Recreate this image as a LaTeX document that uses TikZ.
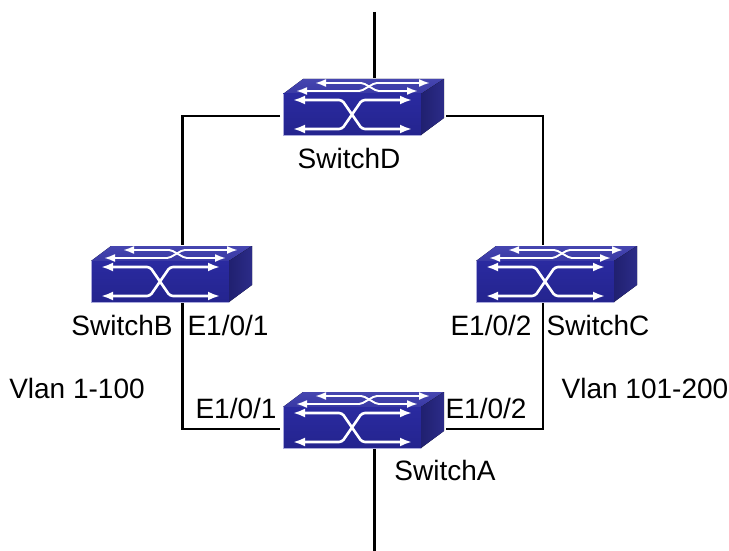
\documentclass[tikz,border=0pt]{standalone}
\usepackage{fontspec}
\setmainfont{Liberation Sans}
\usetikzlibrary{arrows.meta}
\definecolor{swfront}{RGB}{42,42,160}
\definecolor{swfrontb}{RGB}{36,36,142}
\definecolor{swtop}{RGB}{70,70,176}
\definecolor{swtopb}{RGB}{56,56,164}
\definecolor{swside}{RGB}{32,32,112}
\definecolor{swsideb}{RGB}{44,44,136}
\definecolor{swedge}{RGB}{170,170,220}
\tikzset{
  x=1pt,y=-1pt,
  swbox/.style={minimum width=161pt,minimum height=56pt,inner sep=0pt,outer sep=0pt,anchor=north west},
  wire/.style={line width=2.4pt,black},
  bigarrow/.style={draw=white,line width=2.6pt,{Latex[length=12pt,width=9pt]}-{Latex[length=12pt,width=9pt]}},
  smallarrow/.style={draw=white,line width=1.9pt,{Latex[length=11pt,width=8pt]}-{Latex[length=11pt,width=8pt]}},
  lab/.style={font=\fontsize{28}{30}\selectfont,inner sep=0pt,text=black}
}
% name, left x, top y, x of the vertical wire relative to the left edge
\newcommand{\swicon}[4]{%
  \node[swbox] (#1) at (#2,#3) {};
  \begin{scope}[shift={(#2,#3)}]
    \fill[top color=swtop,bottom color=swtopb] (0,15) -- (20,0) -- (161,0) -- (138,15) -- cycle;
    \fill[top color=swfront,bottom color=swfrontb] (0,15) rectangle (138,56);
    \fill[left color=swside,right color=swsideb] (138,15) -- (161,0) -- (161,39) -- (138,56) -- cycle;
    \draw[swedge,line width=0.5pt] (0,15) -- (0,56) -- (138,56);
    \draw[bigarrow,rounded corners=3pt] (10,21) -- (59,21) -- (79,50) -- (129,50);
    \draw[bigarrow,rounded corners=3pt] (10,50) -- (59,50) -- (79,21) -- (129,21);
    \draw[smallarrow,rounded corners=2pt] (32,4) -- (80,4) -- (94,12) -- (135,12);
    \draw[smallarrow,rounded corners=2pt] (13,12) -- (78,12) -- (92,4) -- (147,4);
    \coordinate (#1-l) at (-3,37);
    \coordinate (#1-r) at (163,37);
    \coordinate (#1-t) at (#4,-1);
    \coordinate (#1-b) at (#4,57);
  \end{scope}}
\begin{document}
\begin{tikzpicture}
\useasboundingbox (0,0) rectangle (729,551);
\swicon{D}{283}{79}{91.5}
\swicon{B}{91}{246}{91.5}
\swicon{C}{476}{246}{67}
\swicon{A}{283}{392}{91.5}
\coordinate (top) at (374.5,12);
\coordinate (bot) at (374.5,551);
\draw[wire] (top) -- (D-t);
\draw[wire] (D-l) -| (B-t);
\draw[wire] (D-r) -| (C-t);
\draw[wire] (B-b) |- (A-l);
\draw[wire] (C-b) |- (A-r);
\draw[wire] (A-b) -- (bot);
\node[lab] (ld) at (349,158) {SwitchD};
\node[lab] (lb) at (122,325) {SwitchB};
\node[lab] (lb1) at (228,325) {E1/0/1};
\node[lab] (lc2) at (491,325) {E1/0/2};
\node[lab] (lc) at (598,325) {SwitchC};
\node[lab] (v1) at (77,388) {Vlan 1-100};
\node[lab] (v2) at (645,388) {Vlan 101-200};
\node[lab] (a1) at (236,408) {E1/0/1};
\node[lab] (a2) at (486,408) {E1/0/2};
\node[lab] (la) at (445,470) {SwitchA};
\end{tikzpicture}
\end{document}
